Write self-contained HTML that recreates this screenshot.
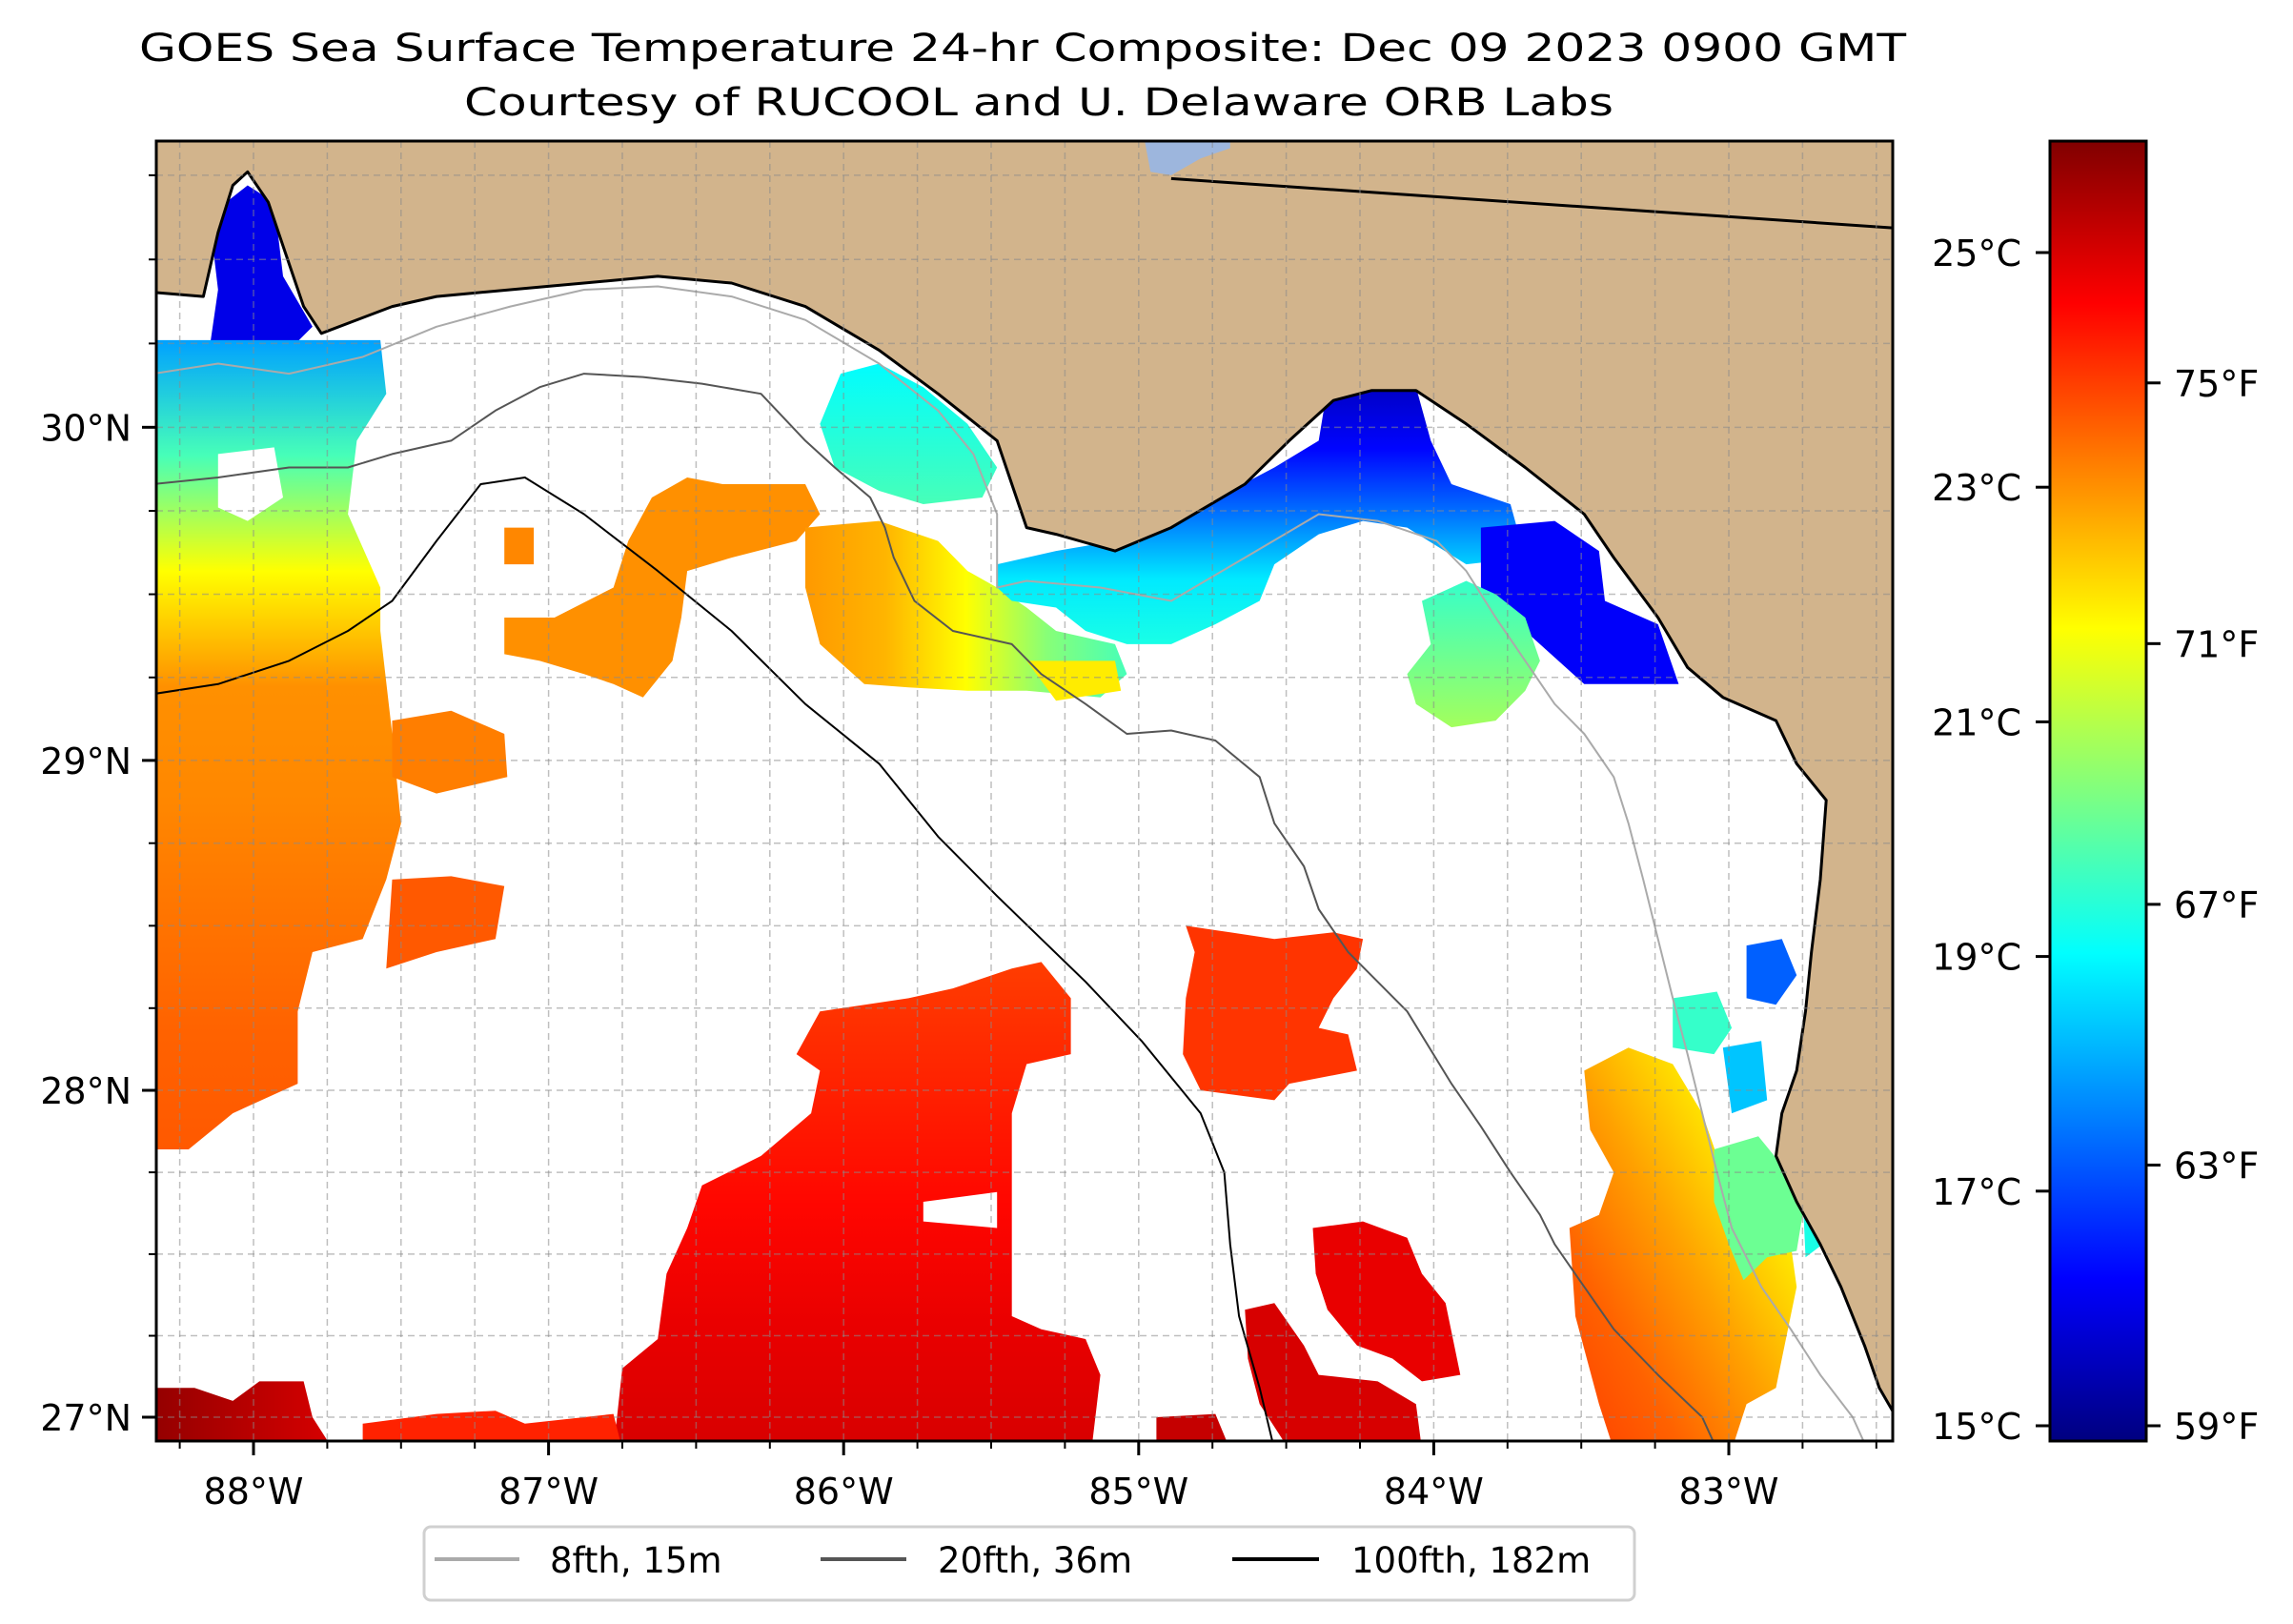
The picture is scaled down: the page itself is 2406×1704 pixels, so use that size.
<!DOCTYPE html>
<html><head><meta charset="utf-8"><style>
html,body{margin:0;padding:0;background:#fff;}
svg{display:block;font-family:"DejaVu Sans","Liberation Sans",sans-serif;}
</style></head><body>
<svg id="chart" width="2406" height="1704" viewBox="0 0 2406 1704" xmlns="http://www.w3.org/2000/svg">
<defs>
<clipPath id="mapclip"><rect x="164" y="148" width="1822" height="1364"/></clipPath>
</defs>
<text x="1073" y="64" font-size="40" text-anchor="middle" textLength="1854" lengthAdjust="spacingAndGlyphs">GOES Sea Surface Temperature 24-hr Composite: Dec 09 2023 0900 GMT</text>
<text x="1090" y="121" font-size="40" text-anchor="middle" textLength="1206" lengthAdjust="spacingAndGlyphs">Courtesy of RUCOOL and U. Delaware ORB Labs</text>
<g id="map" clip-path="url(#mapclip)"></g>
<g id="axes"></g>
<g id="cbar"></g>
<g id="legend">
<rect x="445" y="1602" width="1270" height="77" rx="7" fill="#fff" stroke="#d0d0d0" stroke-width="3"/>
<line x1="456" y1="1636" x2="545" y2="1636" stroke="#aaaaaa" stroke-width="4"/>
<text x="577" y="1650" font-size="37">8fth, 15m</text>
<line x1="861" y1="1636" x2="951" y2="1636" stroke="#555555" stroke-width="4"/>
<text x="984" y="1650" font-size="37">20fth, 36m</text>
<line x1="1293" y1="1636" x2="1384" y2="1636" stroke="#000" stroke-width="4"/>
<text x="1418" y="1650" font-size="37">100fth, 182m</text>
</g>
</svg>
<script>
// ---- data ----
const lonTicks = [-88, -87, -86, -85, -84, -83];
const lonTickLabels = ["88°W", "87°W", "86°W", "85°W", "84°W", "83°W"];
const latTicks = [27, 28, 29, 30];
const latTickLabels = ["27°N", "28°N", "29°N", "30°N"];
const cTicks = [15, 17, 19, 21, 23, 25];
const cTickLabels = ["15°C", "17°C", "19°C", "21°C", "23°C", "25°C"];
const fTicks = [59, 63, 67, 71, 75];
const fTickLabels = ["59°F", "63°F", "67°F", "71°F", "75°F"];
const cbarRange = [14.87, 25.95];

const landPoly = [[-88.45,30.95],[-88.45,30.41],[-88.17,30.39],[-88.12,30.58],[-88.07,30.72],[-88.02,30.76],[-87.95,30.67],[-87.90,30.54],[-87.83,30.36],[-87.77,30.28],[-87.53,30.36],[-87.38,30.39],[-87.13,30.41],[-86.88,30.43],[-86.63,30.45],[-86.38,30.43],[-86.13,30.36],[-85.88,30.23],[-85.68,30.10],[-85.48,29.96],[-85.43,29.83],[-85.38,29.70],[-85.28,29.68],[-85.08,29.63],[-84.89,29.70],[-84.64,29.83],[-84.49,29.96],[-84.34,30.08],[-84.21,30.11],[-84.06,30.11],[-83.89,30.01],[-83.69,29.88],[-83.49,29.74],[-83.39,29.61],[-83.24,29.43],[-83.14,29.28],[-83.02,29.19],[-82.84,29.12],[-82.77,28.99],[-82.67,28.88],[-82.69,28.64],[-82.72,28.42],[-82.74,28.24],[-82.77,28.06],[-82.82,27.93],[-82.84,27.80],[-82.77,27.66],[-82.69,27.53],[-82.62,27.40],[-82.54,27.22],[-82.49,27.09],[-82.42,26.98],[-82.30,26.85],[-82.30,30.95]];
const lakePoly = [[-84.99,30.90],[-84.69,30.90],[-84.69,30.83],[-84.79,30.80],[-84.89,30.75],[-84.96,30.76]];
const borderLine = [[-84.89,30.74],[-82.30,30.585]];

const iso8 = [[-88.34,30.16],[-88.12,30.19],[-87.88,30.16],[-87.63,30.21],[-87.38,30.30],[-87.13,30.36],[-86.88,30.41],[-86.63,30.42],[-86.38,30.39],[-86.13,30.32],[-85.88,30.19],[-85.68,30.05],[-85.56,29.92],[-85.48,29.74],[-85.48,29.52],[-85.38,29.54],[-85.13,29.52],[-84.89,29.48],[-84.64,29.61],[-84.39,29.74],[-84.19,29.72],[-83.99,29.66],[-83.89,29.57],[-83.79,29.43],[-83.69,29.30],[-83.59,29.17],[-83.49,29.08],[-83.39,28.95],[-83.34,28.81],[-83.29,28.64],[-83.24,28.46],[-83.19,28.28],[-83.14,28.11],[-83.09,27.93],[-83.04,27.75],[-82.99,27.58],[-82.89,27.40],[-82.79,27.27],[-82.69,27.13],[-82.58,27.0],[-82.53,26.9]];
const iso20 = [[-88.34,29.83],[-88.12,29.85],[-87.88,29.88],[-87.68,29.88],[-87.53,29.92],[-87.33,29.96],[-87.18,30.05],[-87.03,30.12],[-86.88,30.16],[-86.68,30.15],[-86.48,30.13],[-86.28,30.10],[-86.13,29.96],[-86.03,29.88],[-85.91,29.79],[-85.86,29.70],[-85.83,29.61],[-85.76,29.48],[-85.63,29.39],[-85.43,29.35],[-85.33,29.26],[-85.18,29.17],[-85.04,29.08],[-84.89,29.09],[-84.74,29.06],[-84.59,28.95],[-84.54,28.81],[-84.44,28.68],[-84.39,28.55],[-84.29,28.42],[-84.09,28.24],[-83.94,28.02],[-83.84,27.89],[-83.74,27.75],[-83.64,27.62],[-83.59,27.53],[-83.49,27.40],[-83.39,27.27],[-83.24,27.13],[-83.09,27.0],[-83.04,26.9]];
const iso100 = [[-88.34,29.20],[-88.12,29.23],[-87.88,29.30],[-87.68,29.39],[-87.53,29.48],[-87.38,29.66],[-87.23,29.83],[-87.08,29.85],[-86.88,29.74],[-86.63,29.57],[-86.38,29.39],[-86.13,29.17],[-85.88,28.99],[-85.68,28.77],[-85.48,28.59],[-85.33,28.46],[-85.18,28.33],[-84.99,28.15],[-84.79,27.93],[-84.71,27.75],[-84.69,27.53],[-84.66,27.31],[-84.59,27.09],[-84.54,26.9]];

// SST patches: polygon (lon,lat), temperatures (°C) along gradient, gradient direction
const blobPolys = [
 [[-88.15,30.63],[-88.02,30.72],[-87.93,30.67],[-87.90,30.45],[-87.80,30.30],[-87.88,30.23],[-88.15,30.23],[-88.12,30.41]],
 [[-88.4,30.26],[-87.57,30.26],[-87.55,30.10],[-87.65,29.96],[-87.68,29.74],[-87.57,29.52],[-87.57,29.39],[-87.53,29.08],[-87.50,28.81],[-87.55,28.64],[-87.63,28.46],[-87.80,28.42],[-87.85,28.24],[-87.85,28.02],[-88.07,27.93],[-88.22,27.82],[-88.4,27.82]],
 [[-87.53,29.12],[-87.33,29.15],[-87.15,29.08],[-87.14,28.95],[-87.38,28.90],[-87.53,28.95]],
 [[-87.53,28.64],[-87.33,28.65],[-87.15,28.62],[-87.18,28.46],[-87.38,28.42],[-87.55,28.37]],
 [[-87.15,29.70],[-87.05,29.70],[-87.05,29.59],[-87.15,29.59]],
 [[-87.15,29.43],[-86.98,29.43],[-86.78,29.52],[-86.73,29.66],[-86.65,29.79],[-86.53,29.85],[-86.41,29.83],[-86.13,29.83],[-86.08,29.74],[-86.16,29.66],[-86.38,29.61],[-86.53,29.57],[-86.55,29.43],[-86.58,29.30],[-86.68,29.19],[-86.78,29.23],[-86.88,29.26],[-87.03,29.30],[-87.15,29.32]],
 [[-86.13,29.70],[-85.88,29.72],[-85.68,29.66],[-85.58,29.57],[-85.48,29.52],[-85.38,29.46],[-85.28,29.39],[-85.08,29.35],[-85.04,29.26],[-85.13,29.19],[-85.38,29.21],[-85.58,29.21],[-85.78,29.22],[-85.93,29.23],[-86.08,29.35],[-86.13,29.52]],
 [[-85.38,29.30],[-85.08,29.30],[-85.06,29.21],[-85.28,29.18]],
 [[-86.01,30.16],[-85.88,30.19],[-85.73,30.12],[-85.58,30.01],[-85.48,29.88],[-85.53,29.79],[-85.73,29.77],[-85.88,29.81],[-86.03,29.88],[-86.08,30.01]],
 [[-85.48,29.59],[-85.28,29.63],[-85.08,29.66],[-84.89,29.72],[-84.69,29.81],[-84.54,29.88],[-84.39,29.96],[-84.36,30.12],[-84.21,30.13],[-84.06,30.12],[-84.01,29.96],[-83.94,29.83],[-83.74,29.77],[-83.69,29.61],[-83.89,29.59],[-84.09,29.70],[-84.24,29.72],[-84.39,29.68],[-84.54,29.59],[-84.59,29.48],[-84.74,29.41],[-84.89,29.35],[-85.04,29.35],[-85.18,29.39],[-85.28,29.46],[-85.43,29.48],[-85.48,29.52]],
 [[-83.84,29.70],[-83.59,29.72],[-83.44,29.63],[-83.42,29.48],[-83.24,29.41],[-83.17,29.23],[-83.49,29.23],[-83.69,29.39],[-83.84,29.52]],
 [[-84.04,29.48],[-83.89,29.54],[-83.79,29.50],[-83.69,29.43],[-83.64,29.30],[-83.69,29.21],[-83.79,29.12],[-83.94,29.10],[-84.06,29.17],[-84.09,29.26],[-84.01,29.35]],
 [[-84.84,28.50],[-84.69,28.48],[-84.54,28.46],[-84.34,28.48],[-84.24,28.46],[-84.26,28.37],[-84.34,28.28],[-84.39,28.19],[-84.29,28.17],[-84.26,28.06],[-84.49,28.02],[-84.54,27.97],[-84.79,28.00],[-84.85,28.11],[-84.84,28.28],[-84.81,28.42]],
 [[-86.08,28.24],[-85.78,28.28],[-85.63,28.31],[-85.43,28.37],[-85.33,28.39],[-85.23,28.28],[-85.23,28.11],[-85.38,28.08],[-85.43,27.93],[-85.43,27.58],[-85.43,27.31],[-85.33,27.27],[-85.18,27.24],[-85.13,27.13],[-85.16,26.9],[-86.78,26.9],[-86.75,27.15],[-86.63,27.24],[-86.60,27.44],[-86.53,27.58],[-86.48,27.71],[-86.28,27.80],[-86.11,27.93],[-86.08,28.06],[-86.16,28.11]],
 [[-84.41,27.58],[-84.24,27.60],[-84.09,27.55],[-84.04,27.44],[-83.96,27.35],[-83.91,27.13],[-84.04,27.11],[-84.14,27.18],[-84.26,27.22],[-84.36,27.33],[-84.40,27.44]],
 [[-84.64,27.33],[-84.54,27.35],[-84.44,27.22],[-84.39,27.13],[-84.19,27.11],[-84.06,27.04],[-84.04,26.9],[-84.49,26.9],[-84.59,27.04],[-84.63,27.18]],
 [[-84.94,27.0],[-84.74,27.01],[-84.69,26.9],[-84.94,26.9]],
 [[-88.4,27.09],[-88.20,27.09],[-88.07,27.05],[-87.98,27.11],[-87.83,27.11],[-87.80,27.0],[-87.73,26.9],[-88.4,26.9]],
 [[-87.63,26.98],[-87.38,27.01],[-87.18,27.02],[-87.08,26.98],[-86.78,27.01],[-86.75,26.9],[-87.63,26.9]],
 [[-83.49,28.06],[-83.34,28.13],[-83.19,28.08],[-83.09,27.93],[-83.04,27.80],[-82.94,27.75],[-82.89,27.62],[-82.79,27.53],[-82.77,27.40],[-82.82,27.18],[-82.84,27.09],[-82.94,27.04],[-82.99,26.9],[-83.39,26.9],[-83.44,27.04],[-83.52,27.31],[-83.54,27.58],[-83.44,27.62],[-83.39,27.75],[-83.47,27.88]],
 [[-83.05,27.82],[-82.90,27.86],[-82.80,27.75],[-82.75,27.62],[-82.77,27.51],[-82.87,27.49],[-82.95,27.42],[-83.0,27.53],[-83.05,27.66]],
 [[-82.75,27.69],[-82.55,27.75],[-82.58,27.60],[-82.74,27.49]],
 [[-83.19,28.28],[-83.04,28.30],[-82.99,28.19],[-83.05,28.11],[-83.19,28.13]],
 [[-82.94,28.44],[-82.82,28.46],[-82.77,28.35],[-82.84,28.26],[-82.94,28.28]],
 [[-83.02,28.13],[-82.89,28.15],[-82.87,27.97],[-82.99,27.93]]
];
const blobTemps = [
 [16.0],
 [18.0, 19.8, 21.8, 23.0, 23.1, 23.3, 23.5, 23.6],
 [23.2],
 [23.6],
 [23.1],
 [23.0],
 [22.9, 22.6, 21.8, 20.5, 19.8],
 [22.0],
 [19.0, 19.8],
 [15.6, 16.3, 17.5, 18.8, 19.3],
 [16.2],
 [19.6, 20.8],
 [24.0],
 [23.9, 24.2, 24.5, 24.8, 25.0],
 [24.8],
 [25.0],
 [25.2],
 [25.8, 25.0],
 [24.2],
 [21.3, 22.0, 22.8, 23.5, 23.9],
 [20.2],
 [19.3],
 [19.6],
 [17.3],
 [18.4]
];
const blobDirs = ["v","v","v","v","v","v","h","v","v","v","v","v","v","v","v","v","v","h","v","d","v","v","v","v","v"];
const gapPolys = [
 [[-88.12,29.92],[-87.93,29.94],[-87.90,29.79],[-88.02,29.72],[-88.12,29.76]],
 [[-85.73,27.66],[-85.48,27.69],[-85.48,27.58],[-85.73,27.60]]
];

// ---- axis functions ----
const NS = "http://www.w3.org/2000/svg";
const X0 = 164, X1 = 1986, Y0 = 148, Y1 = 1512;
const PXLON = 309.6, KMERC = 17430;
function merc(lat){ return Math.log(Math.tan(Math.PI/4 + lat*Math.PI/360)); }
function xScale(lon){ return 266 + (lon + 88) * PXLON; }
function yScale(lat){ return 1487 - KMERC * (merc(lat) - merc(27)); }
const CB_X0 = 2151, CB_X1 = 2252;
function cbY(c){ return 1496 - (c - 15) * 123.1; }
function fToC(f){ return (f - 32) * 5 / 9; }
function jet(t){
  const v = Math.max(0, Math.min(1, (t - cbarRange[0]) / (cbarRange[1] - cbarRange[0])));
  const cl = a => Math.round(255 * Math.max(0, Math.min(1, a)));
  return `rgb(${cl(1.5-Math.abs(4*v-3))},${cl(1.5-Math.abs(4*v-2))},${cl(1.5-Math.abs(4*v-1))})`;
}
function pts(poly){ return poly.map(p => xScale(p[0]).toFixed(1) + "," + yScale(p[1]).toFixed(1)).join(" "); }
function mk(tag, attrs, parent){
  const el = document.createElementNS(NS, tag);
  for (const k in attrs) el.setAttribute(k, attrs[k]);
  parent.appendChild(el);
  return el;
}

const svg = document.getElementById("chart");
const defs = svg.querySelector("defs");
const map = document.getElementById("map");
const axes = document.getElementById("axes");
const cbar = document.getElementById("cbar");

const ocean = mk("rect", {x:X0, y:Y0, width:X1-X0, height:Y1-Y0, fill:"#ffffff"}, map);



blobPolys.forEach((poly, i) => {
  const temps = blobTemps[i];
  let fill;
  if (temps.length === 1) { fill = jet(temps[0]); }
  else {
    const id = "g" + i;
    const d = blobDirs[i];
    const ga = d === "h" ? {x1:0,y1:0,x2:1,y2:0} : d === "d" ? {x1:1,y1:0,x2:0,y2:1} : {x1:0,y1:0,x2:0,y2:1};
    ga.id = id;
    const g = mk("linearGradient", ga, defs);
    temps.forEach((t, j) => mk("stop", {offset: (j/(temps.length-1)), "stop-color": jet(t)}, g));
    fill = `url(#${id})`;
  }
  const el = mk("polygon", {points: pts(poly), fill: fill}, map);
  
  
});
gapPolys.forEach(poly => {
  const el = mk("polygon", {points: pts(poly), fill: "#ffffff"}, map);
  
  
});

[[iso8,"#aaaaaa",2,"isobath-8fth"],[iso20,"#555555",2,"isobath-20fth"],[iso100,"#000000",2,"isobath-100fth"]].forEach(s => {
  const el = mk("polyline", {points: pts(s[0]), fill:"none", stroke:s[1], "stroke-width":s[2], "stroke-linejoin":"round"}, map);
  
  
});

const land = mk("polygon", {points: pts(landPoly), fill:"#d2b48c", stroke:"#000", "stroke-width":3, "stroke-linejoin":"round"}, map);


const lake = mk("polygon", {points: pts(lakePoly), fill:"#9db6dd"}, map);


const border = mk("polyline", {points: pts(borderLine), fill:"none", stroke:"#000", "stroke-width":3}, map);



for (let lon = -88.25; lon <= -82.5; lon += 0.25) {
  const x = xScale(lon);
  const el = mk("line", {x1:x, y1:Y0, x2:x, y2:Y1, stroke:"#8a8a8a", "stroke-opacity":0.55, "stroke-width":1.5, "stroke-dasharray":"7,5"}, map);
  
  
}
for (let lat = 27; lat <= 30.75; lat += 0.25) {
  const y = yScale(lat);
  const el = mk("line", {x1:X0, y1:y, x2:X1, y2:y, stroke:"#8a8a8a", "stroke-opacity":0.55, "stroke-width":1.5, "stroke-dasharray":"7,5"}, map);
  
  
}

const frame = mk("rect", {x:X0, y:Y0, width:X1-X0, height:Y1-Y0, fill:"none", stroke:"#000", "stroke-width":3}, axes);



for (let lon = -88.25; lon <= -82.5; lon += 0.25) {
  const x = xScale(lon);
  const major = Math.abs(lon - Math.round(lon)) < 1e-6;
  const el = mk("line", {x1:x, y1:Y1, x2:x, y2:Y1 + (major ? 15 : 8), stroke:"#000", "stroke-width":major ? 3 : 2}, axes);
  
  
}
for (let lat = 27; lat <= 30.75; lat += 0.25) {
  const y = yScale(lat);
  const major = Math.abs(lat - Math.round(lat)) < 1e-6;
  const el = mk("line", {x1:X0, y1:y, x2:X0 - (major ? 15 : 8), y2:y, stroke:"#000", "stroke-width":major ? 3 : 2}, axes);
  
  
}
lonTicks.forEach((lon, i) => {
  const el = mk("text", {x: xScale(lon), y: 1578, "font-size":38, "text-anchor":"middle"}, axes);
  el.textContent = lonTickLabels[i];
  
  
});
latTicks.forEach((lat, i) => {
  const el = mk("text", {x: 138, y: yScale(lat) + 14, "font-size":38, "text-anchor":"end"}, axes);
  el.textContent = latTickLabels[i];
  
  
});

const cg = mk("linearGradient", {id:"cbgrad", x1:0, y1:1, x2:0, y2:0}, defs);
for (let j = 0; j <= 40; j++) {
  const t = cbarRange[0] + (cbarRange[1] - cbarRange[0]) * j / 40;
  mk("stop", {offset: j/40, "stop-color": jet(t)}, cg);
}
const cbRect = mk("rect", {x:CB_X0, y:cbY(cbarRange[1]), width:CB_X1-CB_X0, height:cbY(cbarRange[0])-cbY(cbarRange[1]), fill:"url(#cbgrad)", stroke:"#000", "stroke-width":3}, cbar);


cTicks.forEach((c, i) => {
  const y = cbY(c);
  const t = mk("line", {x1:CB_X0, y1:y, x2:CB_X0-15, y2:y, stroke:"#000", "stroke-width":3}, cbar);
  
  
  const el = mk("text", {x: 2121, y: y + 14, "font-size":38, "text-anchor":"end"}, cbar);
  el.textContent = cTickLabels[i];
  
  
});
fTicks.forEach((f, i) => {
  const y = cbY(fToC(f));
  const t = mk("line", {x1:CB_X1, y1:y, x2:CB_X1+15, y2:y, stroke:"#000", "stroke-width":3}, cbar);
  
  
  const el = mk("text", {x: 2281, y: y + 14, "font-size":38}, cbar);
  el.textContent = fTickLabels[i];
  
  
});
</script>
</body></html>
